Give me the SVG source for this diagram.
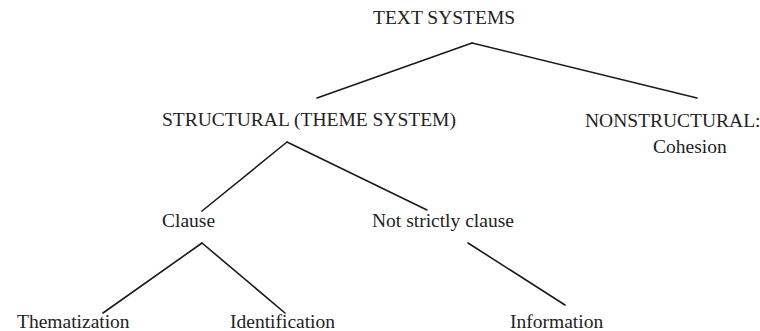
<svg xmlns="http://www.w3.org/2000/svg" width="760" height="331" viewBox="0 0 760 331">
<style>
text{font-family:"Liberation Serif","Times New Roman",serif;font-size:19.5px;fill:#222}
.c line{stroke:#1a1a1a;stroke-width:1.6;stroke-linecap:round}
</style>
<rect width="760" height="331" fill="#fff"/>
<g class="c" id="connectors">
<line x1="472" y1="43" x2="317" y2="98"/>
<line x1="472" y1="43" x2="697" y2="98"/>
<line x1="287" y1="142" x2="202" y2="211"/>
<line x1="287" y1="142" x2="427" y2="210"/>
<line x1="202" y1="243" x2="103" y2="313"/>
<line x1="202" y1="243" x2="285" y2="313"/>
<line x1="468" y1="243" x2="565" y2="305"/>
</g>
<g id="text-systems"><text x="373" y="24">TEXT SYSTEMS</text></g>
<g id="structural"><text x="162" y="126">STRUCTURAL (THEME SYSTEM)</text></g>
<g id="nonstructural"><text x="585" y="127">NONSTRUCTURAL:</text><text x="653" y="153">Cohesion</text></g>
<g id="clause"><text x="162" y="227">Clause</text></g>
<g id="not-strictly-clause"><text x="372" y="227">Not strictly clause</text></g>
<g id="thematization"><text x="17" y="328">Thematization</text></g>
<g id="identification"><text x="230" y="328">Identification</text></g>
<g id="information"><text x="510" y="328">Information</text></g>
</svg>
